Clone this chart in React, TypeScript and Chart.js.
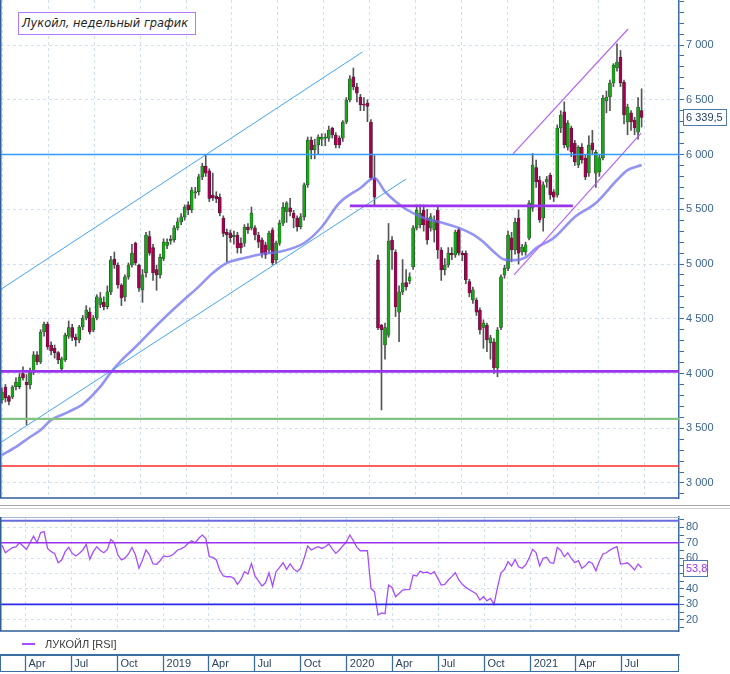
import { useEffect, useRef } from "react"
import { Chart, registerables } from "chart.js"

Chart.register(...registerables)

// weekly bars [open, high, low, close], first bar is the week of 13 Feb 2018
const ohlc2018 = [
  [3758, 3870, 3730, 3831], [3877, 3900, 3740, 3777], [3790, 3800, 3713, 3745], [3785, 3890, 3770, 3877],
  [3880, 3960, 3850, 3920], [3880, 4000, 3860, 3968], [4000, 4060, 3940, 3960], [3920, 3990, 3530, 3895],
  [3895, 4050, 3860, 4014], [4014, 4200, 3990, 4170], [4170, 4200, 4080, 4105], [4105, 4400, 4090, 4379],
  [4379, 4470, 4340, 4452], [4452, 4470, 4220, 4242], [4260, 4290, 4170, 4206], [4230, 4260, 4140, 4190],
  [4190, 4200, 4090, 4123], [4041, 4150, 4020, 4133], [4124, 4370, 4110, 4352], [4340, 4480, 4320, 4420],
  [4420, 4450, 4300, 4330], [4333, 4360, 4250, 4306], [4306, 4440, 4280, 4425], [4425, 4530, 4400, 4507],
  [4507, 4620, 4490, 4580], [4560, 4600, 4360, 4379], [4397, 4530, 4380, 4507], [4507, 4720, 4490, 4700],
  [4630, 4740, 4600, 4690], [4650, 4700, 4580, 4610], [4610, 4800, 4590, 4745], [4745, 5070, 4720, 5037],
  [5046, 5110, 4960, 4991], [4991, 5010, 4780, 4808], [4808, 4820, 4620, 4690], [4700, 4900, 4660, 4882],
  [4882, 5010, 4860, 4991], [4991, 5180, 4970, 5100], [5190, 5200, 4990, 5010], [4990, 5000, 4750, 4780],
  [4763, 4950, 4650, 4900], [4920, 5290, 4880, 5265], [5250, 5300, 5080, 5100], [5150, 5180, 4850, 4918],
  [4950, 4990, 4760, 4900], [4900, 5090, 4870, 5060],
]

const ohlc2019 = [
  [5050, 5230, 5030, 5200], [5170, 5230, 5140, 5200], [5210, 5260, 5180, 5225], [5220, 5350, 5200, 5330],
  [5330, 5420, 5310, 5385], [5385, 5460, 5360, 5430], [5430, 5540, 5400, 5520], [5540, 5570, 5450, 5493],
  [5493, 5700, 5470, 5676], [5650, 5700, 5600, 5660], [5660, 5820, 5630, 5795], [5795, 5920, 5770, 5895],
  [5895, 6000, 5800, 5830], [5850, 5870, 5570, 5600], [5630, 5830, 5580, 5605], [5620, 5660, 5560, 5595],
  [5610, 5640, 5440, 5466], [5420, 5440, 5250, 5280], [5290, 5320, 5020, 5265], [5285, 5310, 5200, 5240],
  [5250, 5300, 5180, 5265], [5265, 5290, 5100, 5146], [5190, 5240, 5100, 5146], [5190, 5360, 5160, 5338],
  [5338, 5370, 5280, 5311], [5330, 5520, 5310, 5465], [5330, 5350, 5220, 5265], [5265, 5290, 5150, 5200],
  [5220, 5240, 5060, 5100], [5174, 5200, 5050, 5082], [5128, 5300, 5100, 5283], [5311, 5330, 4990, 5010],
  [5037, 5210, 5000, 5190], [5190, 5400, 5170, 5374], [5374, 5560, 5350, 5520], [5480, 5570, 5380, 5557],
  [5512, 5600, 5440, 5475], [5466, 5490, 5330, 5420], [5420, 5440, 5300, 5340], [5340, 5460, 5320, 5430],
  [5430, 5740, 5400, 5722], [5722, 6160, 5700, 6132], [6132, 6160, 5960, 6041], [6041, 6140, 5960, 6087],
  [6087, 6180, 6000, 6160], [6140, 6190, 6080, 6160], [6150, 6190, 6080, 6160], [6150, 6260, 6120, 6224],
  [6240, 6250, 6150, 6178], [6178, 6200, 6060, 6087], [6150, 6170, 6060, 6087], [6150, 6310, 6120, 6297],
]

const ohlc2020 = [
  [6297, 6520, 6280, 6498], [6498, 6720, 6480, 6690], [6710, 6790, 6590, 6617], [6617, 6650, 6480, 6560],
  [6525, 6550, 6400, 6452], [6460, 6520, 6400, 6450], [6470, 6500, 6300, 6440], [6297, 6320, 5770, 5785],
  [5785, 5990, 5530, 5610], [5037, 5082, 4400, 4416], [4440, 4450, 3667, 4400], [4260, 4460, 4130, 4420],
  [4350, 5370, 4330, 5210], [5219, 5250, 4950, 5128], [5110, 5130, 4520, 4608], [4560, 4800, 4290, 4745],
  [4745, 5040, 4720, 4826], [4830, 4950, 4760, 4790], [4845, 4920, 4820, 4882], [4973, 5350, 4950, 5330],
  [5330, 5540, 5310, 5493], [5356, 5540, 5330, 5466], [5493, 5540, 5300, 5356], [5420, 5500, 5180, 5219],
  [5330, 5460, 5300, 5430], [5311, 5440, 5200, 5402], [5493, 5520, 5050, 5128], [5128, 5150, 4850, 4945],
  [4945, 5050, 4900, 4991], [4991, 5150, 4970, 5100], [5100, 5150, 5040, 5082], [5082, 5310, 5060, 5292],
  [5311, 5330, 5080, 5100], [5100, 5120, 5030, 5082], [5100, 5120, 4820, 4854], [4840, 4860, 4700, 4735],
  [4671, 4790, 4640, 4763], [4671, 4690, 4530, 4560], [4580, 4600, 4360, 4397], [4420, 4490, 4230, 4460],
  [4443, 4460, 4200, 4306], [4280, 4350, 4130, 4325], [4290, 4320, 4000, 4050], [4050, 4420, 3970, 4397],
  [4420, 4900, 4400, 4882], [4900, 4990, 4870, 4960], [4960, 5300, 4940, 5265], [5240, 5290, 5020, 5128],
  [5128, 5420, 5090, 5380], [5420, 5493, 5000, 5100], [5110, 5180, 5080, 5155], [5110, 5200, 5080, 5174],
  [5237, 5580, 5220, 5557],
]

const ohlc2021 = [
  [5510, 6010, 5480, 5904], [5880, 5950, 5700, 5750], [5767, 5800, 5380, 5402], [5420, 5750, 5300, 5722],
  [5750, 5800, 5700, 5770], [5813, 5830, 5590, 5630], [5660, 5680, 5570, 5610], [5630, 6270, 5610, 6242],
  [6242, 6400, 6200, 6360], [6390, 6480, 6060, 6087], [6068, 6310, 6040, 6288], [6242, 6260, 5980, 6023],
  [6105, 6130, 5900, 5932], [5904, 6080, 5880, 6068], [6068, 6100, 5920, 5950], [5968, 6000, 5770, 5795],
  [5831, 6170, 5800, 6087], [6105, 6220, 6000, 6041], [5830, 6040, 5700, 6020], [5840, 6000, 5800, 5970],
  [5968, 6540, 5950, 6516], [6490, 6580, 6380, 6525], [6525, 6680, 6400, 6653], [6653, 6830, 6620, 6817],
  [6790, 7010, 6760, 6845], [6890, 6950, 6620, 6653], [6660, 6680, 6280, 6361], [6297, 6460, 6180, 6434],
  [6380, 6400, 6220, 6297], [6315, 6340, 6180, 6242], [6205, 6520, 6140, 6434], [6400, 6600, 6250, 6339.5],
]

const firstBar = "2018-02-13"

// moving average, read at some of the weeks (week number from the first bar)
const maWeeks = [0, 4, 8, 11, 14, 19, 23, 28, 31, 34, 38, 45, 51, 56, 60, 64, 69, 74, 79, 86, 91, 96, 102, 106, 109, 112, 115, 120, 125, 130, 134, 137, 140, 143, 146, 149, 152, 157, 163, 169, 175, 178, 182]
const maValues = [3255, 3330, 3420, 3484, 3575, 3650, 3720, 3880, 4010, 4120, 4242, 4470, 4650, 4793, 4918, 5009, 5055, 5092, 5112, 5192, 5338, 5557, 5694, 5785, 5660, 5570, 5500, 5420, 5380, 5330, 5270, 5200, 5110, 5040, 5035, 5060, 5146, 5237, 5430, 5557, 5767, 5858, 5904]

// weekly RSI, one value per bar
const rsiValues = [
  68.5, 63.5, 65.3, 66.8, 67.3, 70, 67.9, 65.7, 70, 74.3,
  70, 76.5, 77.2, 66.3, 64.2, 63.1, 57, 58.8, 64.2, 67,
  63.1, 61.4, 63, 65.3, 68.9, 59.2, 64.2, 67.4, 65, 63.5,
  65.7, 72.2, 70, 62, 58.8, 60, 62.7, 67, 62, 53.4,
  58.8, 65.3, 62, 56.2, 56, 58.3, 61.4, 61, 61.4, 63,
  65.3, 66, 67.4, 69.6, 71.3, 70, 72.9, 75, 72.9, 60.9,
  60.5, 58.8, 52, 48.4, 47.9, 48, 46.9, 43, 46, 51.2,
  49.7, 56.6, 48.4, 45.3, 41.9, 44, 50.5, 41.9, 51.2, 54,
  57, 52.7, 56.2, 53, 51.2, 53.4, 60, 67.9, 65.3, 66.5,
  67.4, 66.3, 67.4, 69.2, 66, 63.1, 65.3, 68, 70.6, 75,
  71.3, 67, 64.8, 64.8, 64.8, 40.4, 38.2, 23.1, 24.5, 24,
  42.5, 41, 34.9, 37, 39.3, 39.5, 39.7, 49, 48.4, 51.6,
  50.5, 51, 49.7, 51.2, 47, 42.5, 43, 45.8, 48, 50.5,
  45.8, 43, 41, 39.5, 38.2, 36.7, 32.8, 34.9, 32.3, 33.9,
  30, 41, 50.5, 52.7, 57.7, 54.9, 59.2, 54.4, 53.4, 55.5,
  60, 65.7, 63.5, 54.9, 59.9, 60.5, 57, 56.6, 67, 65,
  60.9, 63.5, 59.9, 57, 58.3, 53.4, 55, 57.7, 56.6, 51.8,
  58, 62.7, 63.5, 65.3, 66.5, 67.4, 56.2, 56.5, 57, 54.9,
  52.3, 56.2, 53.8,
]

const tickDates = [
  "2018-04-01", "2018-07-01", "2018-10-01", "2019-01-01", "2019-04-01", "2019-07-01", "2019-10-01",
  "2020-01-01", "2020-04-01", "2020-07-01", "2020-10-01", "2021-01-01", "2021-04-01", "2021-07-01",
]
const tickLabels = ["Apr", "Jul", "Oct", "2019", "Apr", "Jul", "Oct", "2020", "Apr", "Jul", "Oct", "2021", "Apr", "Jul"]

// drawn levels and channels, [date, price]
const blueUpper = [["2018-02-09", 4763], ["2020-02-01", 6936]]
const blueLower = [["2018-02-09", 3365], ["2020-04-28", 5776]]
const purpleUpper = [["2020-11-27", 6005], ["2021-07-14", 7146]]
const purpleLower = [["2020-11-29", 4900], ["2021-08-09", 6196]]
const range2020 = [["2020-01-07", 5530], ["2021-03-26", 5530]]
const levelBlue = 6000
const levelPurple = 4020
const levelGreen = 3585
const levelRed = 3155
const rsiHigh = 70
const rsiLow = 30
const rsiTop = 84.3

const day = (iso: string) => (Date.parse(iso) - Date.parse("2018-01-01")) / 86400000
const candles = [...ohlc2018, ...ohlc2019, ...ohlc2020, ...ohlc2021]
const barDay = (k: number) => day(firstBar) + 7 * k
const xMin = day("2018-02-11") + 0.2
const xMax = day("2021-10-23") + 0.5

const axisColor = "#3b6ea0"
const gridColor = "#cfe0f3"
const labelColor = "#3a6590"
const fontFamily = '"Liberation Sans", Arial, sans-serif'

const quarterTicks = (scale: any) => {
  scale.ticks = tickDates.map((d) => ({ value: day(d) }))
}
const tickLabel = (v: number) => {
  const i = tickDates.findIndex((d) => Math.abs(day(d) - v) < 0.01)
  return i >= 0 ? tickLabels[i] : ""
}
const spaced = (v: number) => String(v).replace(".", ",").replace(/\B(?=(\d{3})+(?!\d))/g, " ")

// right axis: fixed width, no extra room kept for the end labels
const fitRight = (s: any) => {
  s.width = 51
  s.paddingTop = 0
  s.paddingBottom = 0
}

const segment = (pts: any[], color: string, width: number) => ({
  type: "line" as const,
  data: pts.map(([d, p]) => ({ x: typeof d === "string" ? day(d) : d, y: p })),
  borderColor: color,
  borderWidth: width,
  pointRadius: 0,
  fill: false,
  order: 0,
})
const level = (v: number, color: string, width: number) =>
  segment([[xMin - 5, v], [xMax + 5, v]], color, width)

// left and bottom edges of the plot, plus an optional light top edge
const framePlugin = (top?: string) => ({
  id: "frame",
  afterDraw(chart: any) {
    const { ctx, chartArea: a } = chart
    ctx.save()
    if (top) {
      ctx.strokeStyle = top
      ctx.lineWidth = 1
      ctx.beginPath()
      ctx.moveTo(a.left, a.top + 0.5)
      ctx.lineTo(a.right, a.top + 0.5)
      ctx.stroke()
    }
    ctx.strokeStyle = "#2f5f96"
    ctx.lineWidth = 1.5
    ctx.beginPath()
    ctx.moveTo(a.left - 0.25, a.top)
    ctx.lineTo(a.left - 0.25, a.bottom)
    ctx.lineTo(a.right, a.bottom)
    ctx.stroke()
    ctx.restore()
  },
})

// last value shown in a box on the right axis
const valueBox = (value: number, text: string, color: string, width: number) => ({
  id: "valueBox",
  afterDraw(chart: any) {
    const { ctx } = chart
    const y = Math.round(chart.scales.y.getPixelForValue(value))
    const x = chart.chartArea.right + 4.5
    ctx.save()
    ctx.fillStyle = "#ffffff"
    ctx.fillRect(x, y - 7.5, width, 16)
    ctx.strokeStyle = "#4d7aa8"
    ctx.lineWidth = 1
    ctx.strokeRect(x, y - 7.5, width, 16)
    ctx.fillStyle = color
    ctx.font = `11px ${fontFamily}`
    ctx.textBaseline = "middle"
    ctx.fillText(text, x + 2.5, y + 1)
    ctx.restore()
  },
})

function PriceChart() {
  const canvasRef = useRef<HTMLCanvasElement>(null)

  useEffect(() => {
    if (!canvasRef.current) return
    const up = (c: number[]) => c[3] >= c[0]
    const chart = new Chart(canvasRef.current, {
      type: "line",
      data: {
        datasets: [
          level(levelBlue, "#2f9bff", 1.5),
          level(levelPurple, "#9a33ee", 2.8),
          level(levelGreen, "#82c282", 2.2),
          level(levelRed, "#ff2a2a", 1.5),
          segment(range2020, "#9a33ee", 2.8),
          segment(blueUpper, "#45a3ff", 1),
          segment(blueLower, "#45a3ff", 1),
          segment(purpleUpper, "#b563ff", 1.2),
          segment(purpleLower, "#b563ff", 1.2),
          {
            type: "line",
            data: maWeeks.map((k, i) => ({ x: barDay(k), y: maValues[i] })),
            borderColor: "rgba(112,112,238,0.75)",
            borderWidth: 2.6,
            pointRadius: 0,
            cubicInterpolationMode: "monotone",
            fill: false,
            order: 1,
          },
          {
            type: "bar",
            data: candles.map((c, k) => ({ x: barDay(k), y: [c[0], c[3]] })),
            backgroundColor: candles.map((c) => (up(c) ? "#17a617" : "#a3004f")),
            borderColor: "#2a2a2a",
            borderWidth: 0.5,
            borderSkipped: false,
            barThickness: 3,
            grouped: false,
            order: 2,
          },
          {
            type: "bar",
            data: candles.map((c, k) => ({ x: barDay(k), y: [c[2], c[1]] })),
            backgroundColor: "#555555",
            barThickness: 1,
            grouped: false,
            order: 3,
          },
        ] as any,
      },
      options: {
        animation: false,
        responsive: false,
        events: [],
        layout: { padding: { left: 1, top: 0, right: 0, bottom: 1 } },
        plugins: { legend: { display: false }, tooltip: { enabled: false } },
        scales: {
          x: {
            type: "linear",
            min: xMin,
            max: xMax,
            offset: false,
            afterBuildTicks: quarterTicks,
            ticks: { display: false },
            grid: { color: gridColor, drawTicks: false },
            border: { display: false, dash: [3, 3] },
            afterFit: (s: any) => {
              s.height = 0
              s.paddingLeft = 0
              s.paddingRight = 0
            },
          },
          y: {
            position: "right",
            min: 2863,
            max: 7411,
            afterBuildTicks: (s: any) => {
              const t = []
              for (let v = 2900; v <= 7400; v += 100) t.push({ value: v })
              s.ticks = t
            },
            ticks: {
              autoSkip: false,
              padding: 2,
              color: labelColor,
              font: { family: fontFamily, size: 11 },
              callback: (v: any) => (Number(v) % 500 === 0 ? spaced(Number(v)) : ""),
            },
            grid: {
              color: (c: any) => (c.tick && c.tick.value % 500 === 0 ? gridColor : "rgba(0,0,0,0)"),
              tickColor: axisColor,
              tickLength: 5,
              tickWidth: 1,
              tickBorderDash: [],
            },
            border: { color: axisColor, width: 1.5, dash: [3, 3] },
            afterFit: fitRight,
          },
        },
      } as any,
      plugins: [framePlugin(), valueBox(candles[candles.length - 1][3], spaced(candles[candles.length - 1][3]), "#1e3a5f", 43)],
    })
    return () => chart.destroy()
  }, [])

  return <canvas ref={canvasRef} width={730} height={499} style={{ position: "absolute", left: 0, top: 0 }} />
}

function RsiChart() {
  const canvasRef = useRef<HTMLCanvasElement>(null)

  useEffect(() => {
    if (!canvasRef.current) return
    const last = rsiValues[rsiValues.length - 1]
    const chart = new Chart(canvasRef.current, {
      type: "line",
      data: {
        datasets: [
          level(rsiTop, "#6a6ae0", 2),
          level(rsiHigh, "#9a33ee", 1.6),
          level(rsiLow, "#2a2ae8", 1.6),
          {
            type: "line",
            data: rsiValues.map((v, k) => ({ x: barDay(k), y: v })),
            borderColor: "#a64dff",
            borderWidth: 1.3,
            pointRadius: 0,
            fill: false,
            order: 1,
          },
        ] as any,
      },
      options: {
        animation: false,
        responsive: false,
        events: [],
        layout: { padding: { left: 1, top: 6, right: 0, bottom: 2 } },
        plugins: { legend: { display: false }, tooltip: { enabled: false } },
        scales: {
          x: {
            type: "linear",
            min: xMin,
            max: xMax,
            offset: false,
            afterBuildTicks: quarterTicks,
            ticks: { display: false },
            grid: { color: gridColor, drawTicks: false },
            border: { display: false, dash: [3, 3] },
            afterFit: (s: any) => {
              s.height = 24
              s.paddingLeft = 0
              s.paddingRight = 0
            },
          },
          x2: {
            type: "linear",
            position: "bottom",
            weight: 10,
            min: xMin,
            max: xMax,
            offset: false,
            afterBuildTicks: quarterTicks,
            grid: {
              drawOnChartArea: false,
              tickLength: 17,
              tickColor: axisColor,
              tickWidth: 1.3,
              tickBorderDash: [],
            },
            border: { display: true, color: axisColor, width: 1.5 },
            ticks: {
              align: "start",
              labelOffset: 3,
              padding: -15,
              autoSkip: false,
              maxRotation: 0,
              color: "#2b4460",
              font: { family: fontFamily, size: 11 },
              callback: (v: any) => tickLabel(Number(v)),
            },
            afterFit: (s: any) => {
              s.height = 17
              s.paddingLeft = 0
              s.paddingRight = 0
            },
          },
          y: {
            position: "right",
            min: 12.7,
            max: 86.7,
            afterBuildTicks: (s: any) => {
              const t = []
              for (let v = 15; v <= 85; v += 5) t.push({ value: v })
              s.ticks = t
            },
            ticks: {
              autoSkip: false,
              padding: 2,
              color: labelColor,
              font: { family: fontFamily, size: 11 },
              callback: (v: any) => (Number(v) % 10 === 0 ? String(v) : ""),
            },
            grid: {
              color: (c: any) => {
                const v = c.tick ? c.tick.value : 0
                return v % 10 === 0 && v !== 30 && v !== 70 ? gridColor : "rgba(0,0,0,0)"
              },
              tickColor: axisColor,
              tickLength: 5,
              tickWidth: 1,
              tickBorderDash: [],
            },
            border: { color: axisColor, width: 1.5, dash: [3, 3] },
            afterFit: fitRight,
          },
        },
      } as any,
      plugins: [framePlugin("#a9bdd1"), valueBox(last, spaced(last), "#9b30ff", 24)],
    })
    return () => chart.destroy()
  }, [])

  return <canvas ref={canvasRef} width={730} height={163} style={{ position: "absolute", left: 0, top: 511 }} />
}

export default function App() {
  return (
    <div
      style={{
        position: "absolute",
        left: 0,
        top: 0,
        width: 730,
        height: 674,
        background: "#ffffff",
        overflow: "hidden",
        fontFamily,
      }}
    >
      <div
        style={{
          position: "absolute",
          left: 0,
          top: 655,
          width: 679,
          height: 17,
          boxSizing: "border-box",
          border: `1.5px solid ${axisColor}`,
        }}
      />
      <div
        style={{
          position: "absolute",
          left: 0,
          top: 505,
          width: 730,
          height: 2,
          borderTop: "1px solid #a6a6a6",
          borderBottom: "1px solid #d2d2d2",
        }}
      />
      <PriceChart />
      <RsiChart />
      <div
        style={{
          position: "absolute",
          left: 18,
          top: 12,
          width: 178,
          height: 23,
          boxSizing: "border-box",
          border: "1.5px solid #b27bff",
          background: "#ffffff",
          font: 'italic 11.4px "DejaVu Sans", Verdana, sans-serif',
          color: "#262626",
          lineHeight: "20px",
          paddingLeft: 3,
          whiteSpace: "nowrap",
        }}
      >
        Лукойл, недельный график
      </div>
      <div
        style={{
          position: "absolute",
          left: 22,
          top: 637,
          height: 13,
          display: "flex",
          alignItems: "center",
          fontSize: 11,
          color: "#404040",
        }}
      >
        <span style={{ display: "inline-block", width: 13, height: 2, background: "#a64dff", marginRight: 10 }} />
        ЛУКОЙЛ [RSI]
      </div>
    </div>
  )
}
